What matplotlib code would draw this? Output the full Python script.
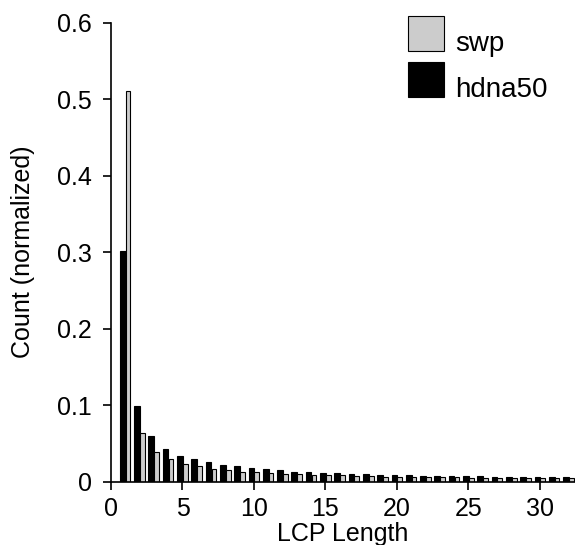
import matplotlib
matplotlib.use("Agg")
import matplotlib.pyplot as plt
import matplotlib.transforms as mtransforms
import numpy as np

plt.rcParams['font.family'] = ['Liberation Sans', 'DejaVu Sans']

lcp_length = list(range(1, 33))
hdna50 = [0.302, 0.099, 0.060, 0.043, 0.034, 0.029, 0.025, 0.0215, 0.020, 0.0177,
          0.016, 0.0147, 0.013, 0.012, 0.011, 0.0107, 0.010, 0.0095, 0.009, 0.0085,
          0.008, 0.0078, 0.0075, 0.0072, 0.007, 0.0068, 0.0065, 0.0063, 0.006, 0.0058,
          0.0056, 0.0055]
swp = [0.5115, 0.064, 0.039, 0.030, 0.0235, 0.020, 0.017, 0.015, 0.013, 0.012,
       0.011, 0.010, 0.0094, 0.009, 0.0085, 0.008, 0.0075, 0.007, 0.0065, 0.0063,
       0.006, 0.0058, 0.0055, 0.0053, 0.005, 0.005, 0.0048, 0.0047, 0.0045, 0.0045,
       0.0043, 0.0042]
series_names = ['swp', 'hdna50']
x_ticks = [0, 5, 10, 15, 20, 25, 30]
y_ticks = [0, 0.1, 0.2, 0.3, 0.4, 0.5, 0.6]
y_ticklabels = ['0', '0.1', '0.2', '0.3', '0.4', '0.5', '0.6']

fig = plt.figure(figsize=(5.75, 5.45), dpi=100)
ax = fig.add_axes([0.193, 0.1165, 0.807, 0.8415])

x = np.array(lcp_length, dtype=float)
b_black = ax.bar(x - 0.38, hdna50, width=0.40, align='edge', color='black',
                 edgecolor='black', linewidth=0.8, label=series_names[1], zorder=2)
b_gray = ax.bar(x + 0.03, swp, width=0.33, align='edge', color='#cccccc',
                edgecolor='black', linewidth=0.8, label=series_names[0], zorder=2)

ax.set_xlim(0, 32.45)
ax.set_ylim(0, 0.6)
ax.set_xticks(x_ticks)
ax.set_yticks(y_ticks)
ax.set_yticklabels(y_ticklabels)
for s in ['top', 'right']:
    ax.spines[s].set_visible(False)
for s in ['left', 'bottom']:
    ax.spines[s].set_linewidth(1.2)
ax.tick_params(axis='both', direction='out', length=6, width=1.2, labelsize=18)
ax.tick_params(axis='y', pad=7.5)
ax.tick_params(axis='x', pad=5)
ax.set_xlabel('LCP Length', fontsize=18, labelpad=1)
ax.set_ylabel('Count (normalized)', fontsize=18, labelpad=16)

leg = ax.legend([b_gray, b_black], series_names, loc='upper left',
                bbox_to_anchor=(0.709, 0.97), bbox_transform=fig.transFigure,
                frameon=False, fontsize=20, handlelength=1.3, handleheight=1.55,
                labelspacing=0.4, handletextpad=0.4, borderpad=0, borderaxespad=0)
for t in leg.get_texts():
    t.set_transform(t.get_transform() + mtransforms.Affine2D().translate(0, -8))

fig.savefig('out.png', dpi=100)
